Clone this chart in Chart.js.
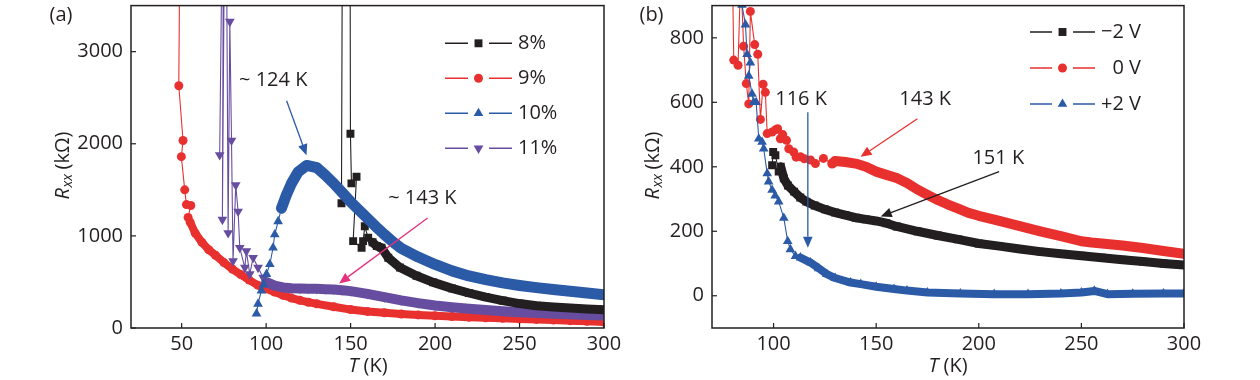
<!DOCTYPE html>
<html><head><meta charset="utf-8">
<script src="https://cdn.jsdelivr.net/npm/chart.js@4.4.1/dist/chart.umd.min.js"></script>
<style>
html,body{margin:0;padding:0;background:#fff;}
#wrap{position:relative;width:1260px;height:380px;overflow:hidden;}
.pane{position:absolute;top:0;width:630px;height:380px;}
canvas{display:block;}
</style></head><body>
<div id="wrap">
<div class="pane" style="left:0"><canvas id="ca" width="630" height="380"></canvas></div>
<div class="pane" style="left:630px"><canvas id="cb" width="630" height="380"></canvas></div>
</div>
<script>
// ---------------- DATA: panel (a) ----------------
const aNames = ['8%', '9%', '10%', '11%'];
const aXTicks = [50, 100, 150, 200, 250, 300];
const aXLabels = ['50', '100', '150', '200', '250', '300'];
const aYTicks = [0, 1000, 2000, 3000];
const aYLabels = ['0', '1000', '2000', '3000'];

const a8T = [144.6, 145.4, 149.5, 149.9, 150.5, 153.5, 151.5, 156.5, 157.4, 158.4, 160.4, 163, 165.5, 168.3, 172.3, 179.2, 189, 198.9, 210, 220, 230, 240, 250, 260, 270, 280, 290, 300];
const a8R = [1355, 6000, 6000, 2108, 1570, 1642, 943, 871, 943, 1104, 979, 930, 890, 871, 763, 656, 567, 495, 430, 380, 335, 298, 265, 242, 228, 217, 207, 198];

const a9T = [49.6, 48.3, 50.8, 49.8, 51.8, 52.8, 55.4, 53.8, 55, 58, 62, 66, 70, 75, 80, 85, 90, 95, 100, 105, 110, 115, 120, 125, 130, 140, 150, 160, 170, 180, 190, 200, 210, 220, 230, 240, 250, 260, 270, 280, 290, 300];
const a9R = [6000, 2630, 2035, 1860, 1500, 1340, 1330, 1200, 1150, 1030, 930, 850, 790, 710, 640, 580, 520, 465, 425, 390, 355, 325, 300, 280, 262, 230, 200, 180, 165, 152, 142, 133, 125, 118, 111, 105, 99, 93, 87, 80, 72, 65];

const a10T = [94.3, 95.2, 97.2, 98.5, 100.2, 102.2, 104.1, 105.1, 107.1, 109.1, 112, 115, 119, 124, 130, 135, 140, 145, 150, 155, 160, 165, 170, 175, 180, 190, 200, 210, 220, 230, 240, 250, 260, 270, 280, 290, 300];
const a10R = [155, 262, 405, 470, 585, 692, 871, 1015, 1158, 1301, 1445, 1570, 1696, 1765, 1740, 1660, 1570, 1470, 1370, 1280, 1190, 1100, 1015, 935, 865, 770, 690, 620, 565, 525, 490, 462, 438, 418, 398, 380, 362];

const a11T = [72.5, 75, 74.1, 76, 77.5, 78.5, 79.5, 80.4, 82, 83.4, 84.4, 87.4, 88.3, 90.3, 92.3, 95.2, 98.2, 100, 105, 110, 115, 120, 125, 130, 135, 140, 145, 150, 160, 170, 180, 190, 200, 210, 220, 230, 240, 250, 260, 270, 280, 290, 300];
const a11R = [1878, 6000, 1176, 6000, 1032, 3327, 2036, 728, 1552, 1265, 871, 656, 835, 585, 763, 656, 549, 500, 460, 440, 432, 428, 426, 425, 422, 418, 410, 400, 370, 335, 300, 270, 244, 225, 208, 195, 183, 172, 163, 155, 148, 142, 135];

// ---------------- DATA: panel (b) ----------------
const bNames = ['\u22122 V', '0 V', '+2 V'];
const bXTicks = [100, 150, 200, 250, 300];
const bXLabels = ['100', '150', '200', '250', '300'];
const bYTicks = [0, 200, 400, 600, 800];
const bYLabels = ['0', '200', '400', '600', '800'];

const bm2T = [99.3, 99.8, 100.9, 102.5, 103.5, 105, 107, 110, 113, 116, 120, 125, 130, 135, 140, 145, 150, 155, 160, 170, 180, 190, 200, 210, 220, 230, 240, 250, 260, 270, 280, 290, 300];
const bm2R = [405, 446, 436, 385, 400, 364, 342, 323, 305, 292, 280, 268, 258, 250, 242, 237, 232, 225, 215, 200, 187, 175, 162, 154, 145, 137, 130, 124, 118, 112, 106, 100, 95];

const b0T = [80, 80.6, 82.7, 84, 85.4, 86.7, 87.9, 88.7, 90.8, 92.3, 93.6, 94.9, 96, 96.9, 99.3, 101, 102, 103.3, 104.5, 106.3, 107.4, 109.8, 111, 113.1, 115, 118, 120.4, 124.3, 128.6, 130, 135, 140, 145, 150, 155, 160, 165, 170, 175, 180, 185, 190, 195, 200, 210, 220, 230, 240, 250, 255, 260, 270, 280, 290, 300];
const b0R = [1000, 731, 715, 1000, 774, 658, 595, 882, 779, 749, 547, 656, 631, 503, 508, 515, 518, 487, 500, 482, 456, 446, 430, 431, 425, 421, 410, 426, 410, 418, 415, 410, 400, 385, 375, 365, 350, 330, 313, 297, 283, 270, 257, 248, 232, 216, 200, 185, 169, 165, 162, 156, 148, 139, 130];

const bp2T = [83.5, 84.6, 86.3, 87.1, 88.7, 87.9, 89.5, 90.3, 91.5, 92.8, 94.4, 95.2, 96.9, 97.6, 99.3, 100.8, 102.5, 105, 106.9, 108.2, 110.7, 113.1, 118, 122, 126, 130, 137.5, 142.5, 150, 158.7, 165, 175, 191, 207.5, 224, 240, 250, 256.3, 262.7, 275, 290, 300];
const bp2R = [1000, 902, 841, 749, 723, 682, 626, 600, 600, 487, 477, 456, 379, 354, 328, 310, 292, 241, 169, 144, 123, 118, 103, 85, 67, 55, 41, 36, 28, 21, 16, 10, 7, 5, 5, 7, 10, 15, 5, 6, 7, 7];

// ---------------- STYLE ----------------
const FONT = "'Open Sans', 'DejaVu Sans', sans-serif";
const FS = 20;
const INK = '#231f20';
const C_BLACK = '#231f20', C_RED = '#e8312f', C_BLUE = '#2b5aa6', C_PURPLE = '#674d9f', C_MAG = '#e5307e';
const SQ = {pointStyle: 'rect', rotation: 0, radius: 5.6};
const CI = {pointStyle: 'circle', rotation: 0, radius: 4.5};
const TU = {pointStyle: 'triangle', rotation: 0, radius: 5.6};
const TD = {pointStyle: 'triangle', rotation: 180, radius: 5.6};

function series(label, T, R, color, mk, bandFrom, bandW) {
  return {
    label: label,
    data: T.map((t, i) => ({x: t, y: R[i]})),
    borderColor: color, backgroundColor: color,
    pointBackgroundColor: color, pointBorderWidth: 0,
    pointStyle: mk.pointStyle, pointRotation: mk.rotation,
    pointRadius: mk.radius, pointHoverRadius: mk.radius,
    borderWidth: 1.1, tension: 0, fill: false, clip: 0,
    borderJoinStyle: 'round', borderCapStyle: 'round',
    segment: {
      borderWidth: c => (c.p0.parsed.x >= bandFrom && c.p1.parsed.x > c.p0.parsed.x) ? bandW : 1.1
    }
  };
}

function arrow(ctx, x1, y1, x2, y2, color) {
  const head = 11, hw = 4.8;
  const ang = Math.atan2(y2 - y1, x2 - x1);
  const bx = x2 - head * Math.cos(ang), by = y2 - head * Math.sin(ang);
  ctx.strokeStyle = color; ctx.lineWidth = 1.3;
  ctx.beginPath(); ctx.moveTo(x1, y1); ctx.lineTo(bx, by); ctx.stroke();
  ctx.fillStyle = color; ctx.beginPath();
  ctx.moveTo(x2, y2);
  ctx.lineTo(bx + hw * Math.sin(ang), by - hw * Math.cos(ang));
  ctx.lineTo(bx - hw * Math.sin(ang), by + hw * Math.cos(ang));
  ctx.closePath(); ctx.fill();
}

function drawYTitle(ctx, cx, cy) {
  ctx.save(); ctx.translate(cx, cy); ctx.rotate(-Math.PI / 2);
  ctx.fillStyle = INK; ctx.textBaseline = 'middle'; ctx.textAlign = 'left';
  const fR = 'italic ' + FS + 'px ' + FONT, fS = 'italic 14px ' + FONT, fN = FS + 'px ' + FONT;
  ctx.font = fR; const wR = ctx.measureText('R').width;
  ctx.font = fS; const wS = ctx.measureText('xx').width;
  ctx.font = fN; const wN = ctx.measureText(' (k\u03a9)').width;
  const x0 = -(wR + wS + wN) / 2;
  ctx.font = fR; ctx.fillText('R', x0, 0);
  ctx.font = fS; ctx.fillText('xx', x0 + wR + 0.5, 5);
  ctx.font = fN; ctx.fillText(' (k\u03a9)', x0 + wR + wS, 0);
  ctx.restore();
}

function drawXTitle(ctx, cx, cy) {
  ctx.save(); ctx.fillStyle = INK; ctx.textBaseline = 'middle'; ctx.textAlign = 'left';
  const fT = 'italic ' + FS + 'px ' + FONT, fN = FS + 'px ' + FONT;
  ctx.font = fT; const wT = ctx.measureText('T').width;
  ctx.font = fN; const wN = ctx.measureText(' (K)').width;
  const x0 = cx - (wT + wN) / 2;
  ctx.font = fT; ctx.fillText('T', x0, cy);
  ctx.font = fN; ctx.fillText(' (K)', x0 + wT, cy);
  ctx.restore();
}

const decor = {
  id: 'decor',
  afterDatasetsDraw(chart, args, o) {
    const ctx = chart.ctx, a = chart.chartArea, xs = chart.scales.x, ys = chart.scales.y;
    ctx.save();
    ctx.strokeStyle = INK; ctx.lineWidth = 1.5;
    ctx.strokeRect(a.left, a.top, a.right - a.left, a.bottom - a.top);
    ctx.lineWidth = 1.2;
    xs.ticks.forEach(t => { const p = xs.getPixelForValue(t.value); ctx.beginPath(); ctx.moveTo(p, a.bottom); ctx.lineTo(p, a.bottom - 5); ctx.stroke(); });
    ys.ticks.forEach(t => { const p = ys.getPixelForValue(t.value); ctx.beginPath(); ctx.moveTo(a.left, p); ctx.lineTo(a.left + 5, p); ctx.stroke(); });
    (o.notes || []).forEach(n => {
      ctx.font = FS + 'px ' + FONT; ctx.fillStyle = INK; ctx.textAlign = 'center'; ctx.textBaseline = 'middle';
      ctx.fillText(n.text, xs.getPixelForValue(n.at[0]), ys.getPixelForValue(n.at[1]));
    });
    (o.arrows || []).forEach(r => {
      arrow(ctx, xs.getPixelForValue(r.from[0]), ys.getPixelForValue(r.from[1]),
                 xs.getPixelForValue(r.to[0]), ys.getPixelForValue(r.to[1]), r.color);
    });
    const L = o.legend;
    L.items.forEach((it, i) => {
      const y = L.y0 + i * L.dy;
      ctx.strokeStyle = it.color; ctx.lineWidth = 1.4;
      ctx.beginPath(); ctx.moveTo(L.x0, y); ctx.lineTo(L.x0 + L.seg, y);
      ctx.moveTo(L.x1 - L.seg, y); ctx.lineTo(L.x1, y); ctx.stroke();
      ctx.fillStyle = it.color;
      Chart.helpers.drawPoint(ctx, {pointStyle: it.mk.pointStyle, rotation: it.mk.rotation, radius: it.mk.radius, borderWidth: 0}, (L.x0 + L.x1) / 2, y);
      ctx.font = FS + 'px ' + FONT; ctx.fillStyle = INK; ctx.textBaseline = 'middle'; ctx.textAlign = L.align;
      ctx.fillText(it.text, L.tx, y);
    });
    ctx.font = FS + 'px ' + FONT; ctx.fillStyle = INK; ctx.textAlign = 'center'; ctx.textBaseline = 'middle';
    ctx.fillText(o.panel[0], o.panel[1], o.panel[2]);
    drawYTitle(ctx, o.ytitle[0], o.ytitle[1]);
    drawXTitle(ctx, o.xtitle[0], o.xtitle[1]);
    ctx.restore();
  }
};

function axes(xmin, xmax, ymin, ymax, xt, xl, yt, yl, yw) {
  const tickFont = {family: FONT, size: FS};
  return {
    x: {
      type: 'linear', min: xmin, max: xmax,
      grid: {display: false, drawTicks: false}, border: {display: false},
      afterBuildTicks: s => { s.ticks = xt.map(v => ({value: v})); },
      afterFit: s => { s.height = 52; s.paddingLeft = 0; s.paddingRight = 0; },
      ticks: {font: tickFont, color: INK, padding: 4, maxRotation: 0, autoSkip: false,
              callback: (v, i) => xl[i]}
    },
    y: {
      type: 'linear', min: ymin, max: ymax,
      grid: {display: false, drawTicks: false}, border: {display: false},
      afterBuildTicks: s => { s.ticks = yt.map(v => ({value: v})); },
      afterFit: s => { s.width = yw; s.paddingTop = 0; s.paddingBottom = 0; },
      ticks: {font: tickFont, color: INK, padding: 8, autoSkip: false,
              callback: (v, i) => yl[i]}
    }
  };
}

const common = {
  responsive: false, animation: false, devicePixelRatio: 1,
  events: [],
  plugins: {legend: {display: false}, tooltip: {enabled: false}}
};

new Chart(document.getElementById('ca'), {
  type: 'line',
  data: {datasets: [
    series(aNames[2], a10T, a10R, C_BLUE, TU, 109, 11),
    series(aNames[0], a8T, a8R, C_BLACK, SQ, 163, 9),
    series(aNames[3], a11T, a11R, C_PURPLE, TD, 100, 10),
    series(aNames[1], a9T, a9R, C_RED, CI, 55, 8)
  ]},
  options: Object.assign({}, common, {
    layout: {padding: {left: 0, right: 26, top: -1, bottom: 0}},
    scales: axes(20, 300, 0, 3500, aXTicks, aXLabels, aYTicks, aYLabels, 131),
    plugins: Object.assign({}, common.plugins, {
      decor: {
        notes: [{text: '~ 124 K', at: [104.2, 2685]}, {text: '~ 143 K', at: [192.5, 1409]}],
        arrows: [{from: [112.1, 2467], to: [123.9, 1875], color: C_BLUE},
                 {from: [195.6, 1194], to: [143.2, 484], color: C_MAG}],
        legend: {x0: 445, x1: 512, seg: 23, y0: 43.3, dy: 35, tx: 518, align: 'left',
                 items: [{text: aNames[0], color: C_BLACK, mk: SQ}, {text: aNames[1], color: C_RED, mk: CI},
                         {text: aNames[2], color: C_BLUE, mk: TU}, {text: aNames[3], color: C_PURPLE, mk: TD}]},
        panel: ['(a)', 61, 15.5],
        ytitle: [63.5, 165.5],
        xtitle: [368, 366]
      }
    })
  }),
  plugins: [decor]
});

new Chart(document.getElementById('cb'), {
  type: 'line',
  data: {datasets: [
    series(bNames[2], bp2T, bp2R, C_BLUE, TU, 113, 8),
    series(bNames[0], bm2T, bm2R, C_BLACK, SQ, 103.5, 9),
    series(bNames[1], b0T, b0R, C_RED, CI, 128, 10)
  ]},
  options: Object.assign({}, common, {
    layout: {padding: {left: 0, right: 76, top: -1, bottom: 0}},
    scales: axes(70, 300, -100, 900, bXTicks, bXLabels, bYTicks, bYLabels, 82),
    plugins: Object.assign({}, common.plugins, {
      decor: {
        notes: [{text: '116 K', at: [113.4, 610]}, {text: '143 K', at: [173.9, 610]}, {text: '151 K', at: [209.5, 425]}],
        arrows: [{from: [116.7, 569], to: [116.7, 149], color: C_BLUE},
                 {from: [170.1, 549], to: [142.4, 431], color: C_RED},
                 {from: [209.9, 385], to: [152.2, 246], color: C_BLACK}],
        legend: {x0: 400, x1: 465, seg: 22, y0: 32, dy: 36, tx: 511, align: 'right',
                 items: [{text: bNames[0], color: C_BLACK, mk: SQ}, {text: bNames[1], color: C_RED, mk: CI},
                         {text: bNames[2], color: C_BLUE, mk: TU}]},
        panel: ['(b)', 21.5, 15.5],
        ytitle: [23.5, 165.5],
        xtitle: [318, 366]
      }
    })
  }),
  plugins: [decor]
});
</script>
</body></html>
